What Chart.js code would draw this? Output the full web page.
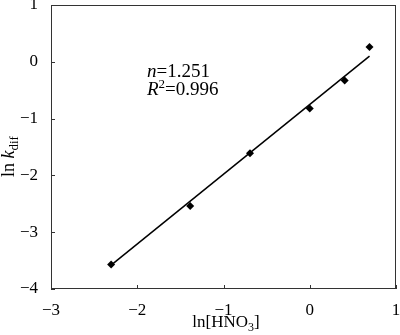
<!DOCTYPE html>
<html>
<head>
<meta charset="utf-8">
<script src="https://cdn.jsdelivr.net/npm/chart.js@4.4.1/dist/chart.umd.min.js"></script>
<style>
  html, body { margin: 0; padding: 0; background: #fff; }
  #wrap { width: 400px; height: 335px; }
</style>
</head>
<body>
<div id="wrap"><canvas id="chart" width="400" height="335"></canvas></div>
<script>
// measured points
const lnHNO3 = [-2.303, -1.386, -0.693, 0, 0.405, 0.693];
const lnKdif = [-3.57, -2.54, -1.61, -0.82, -0.33, 0.26];
// fitted line ends
const fitX = [-2.303, 0.693];
const fitY = [-3.58, 0.10];
const xTicks = [-3, -2, -1, 0, 1];
const yTicks = [-4, -3, -2, -1, 0, 1];
const fitN = '1.251';
const fitR2 = '0.996';

const SERIF = '"Liberation Serif", "Times New Roman", serif';
const minus = (v) => v < 0 ? '\u2212' + Math.abs(v) : String(v);

// draws a row of text pieces, each with its own font and baseline shift
function drawRuns(ctx, x, y, runs) {
  for (const r of runs) {
    ctx.font = r.font;
    ctx.fillText(r.t, x, y + (r.dy || 0));
    x += ctx.measureText(r.t).width;
  }
  return x;
}

function noOverflow(s) {
  s.paddingTop = 0; s.paddingBottom = 0; s.paddingLeft = 0; s.paddingRight = 0;
}

const framePlugin = {
  id: 'frame',
  afterDraw(chart) {
    const { ctx, chartArea: a, scales } = chart;
    ctx.save();
    ctx.strokeStyle = '#333';
    ctx.lineWidth = 1;
    ctx.strokeRect(a.left + 0.5, a.top + 0.5, a.right - a.left - 1, a.bottom - a.top - 1);
    // inward ticks
    ctx.beginPath();
    xTicks.forEach(v => {
      const px = Math.round(scales.x.getPixelForValue(v)) + 0.5;
      ctx.moveTo(px, a.bottom); ctx.lineTo(px, a.bottom - 4);
    });
    yTicks.forEach(v => {
      const py = Math.round(scales.y.getPixelForValue(v)) + 0.5;
      ctx.moveTo(a.left, py); ctx.lineTo(a.left + 4, py);
    });
    ctx.stroke();

    ctx.fillStyle = '#000';
    ctx.textBaseline = 'alphabetic';
    ctx.textAlign = 'left';
    const f = '19px ' + SERIF, fi = 'italic 19px ' + SERIF, fs = '13px ' + SERIF;
    // fit annotation
    drawRuns(ctx, 147, 77, [{ t: 'n', font: fi }, { t: '=' + fitN, font: f }]);
    drawRuns(ctx, 147, 95, [{ t: 'R', font: fi }, { t: '2', font: fs, dy: -7 }, { t: '=' + fitR2, font: f }]);

    // x axis title
    const xt = [{ t: 'ln[HNO', font: '17px ' + SERIF }, { t: '3', font: '12px ' + SERIF, dy: 4 }, { t: ']', font: '17px ' + SERIF }];
    let w = 0;
    xt.forEach(r => { ctx.font = r.font; w += ctx.measureText(r.t).width; });
    drawRuns(ctx, 226 - w / 2, 327, xt);

    // y axis title, starting from its lower end
    ctx.translate(14, 177);
    ctx.rotate(-Math.PI / 2);
    drawRuns(ctx, 0, 0, [{ t: 'ln ', font: '18px ' + SERIF }, { t: 'k', font: 'italic 18px ' + SERIF }, { t: 'dif', font: '13px ' + SERIF, dy: 4 }]);
    ctx.restore();
  }
};

const ctx = document.getElementById('chart');
const chart = new Chart(ctx, {
  type: 'scatter',
  data: {
    datasets: [{
      label: 'data',
      data: lnHNO3.map((x, i) => ({ x, y: lnKdif[i] })),
      pointStyle: 'rectRot',
      pointRadius: 4,
      backgroundColor: '#000',
      borderColor: '#000',
      borderWidth: 0
    }, {
      label: 'fit',
      data: fitX.map((x, i) => ({ x, y: fitY[i] })),
      showLine: true,
      pointRadius: 0,
      borderColor: '#000',
      borderWidth: 1.5
    }]
  },
  plugins: [framePlugin],
  options: {
    responsive: false,
    animation: false,
    events: [],
    layout: {
      padding: { top: 5, right: 3, left: 0, bottom: 0 }
    },
    plugins: {
      legend: { display: false },
      tooltip: { enabled: false }
    },
    scales: {
      x: {
        type: 'linear',
        min: -3,
        max: 1,
        afterFit: (s) => { s.height = 46; noOverflow(s); },
        afterBuildTicks: (s) => { s.ticks = xTicks.map(v => ({ value: v })); },
        grid: { display: false },
        border: { display: false },
        ticks: {
          color: '#000',
          padding: 3,
          font: { family: SERIF, size: 17 },
          callback: minus
        }
      },
      y: {
        type: 'linear',
        min: -4,
        max: 1,
        afterFit: (s) => { s.width = 51; noOverflow(s); },
        afterBuildTicks: (s) => { s.ticks = yTicks.map(v => ({ value: v })); },
        grid: { display: false },
        border: { display: false },
        ticks: {
          color: '#000',
          padding: 5,
          font: { family: SERIF, size: 17 },
          callback: minus
        }
      }
    }
  }
});
</script>
</body>
</html>
